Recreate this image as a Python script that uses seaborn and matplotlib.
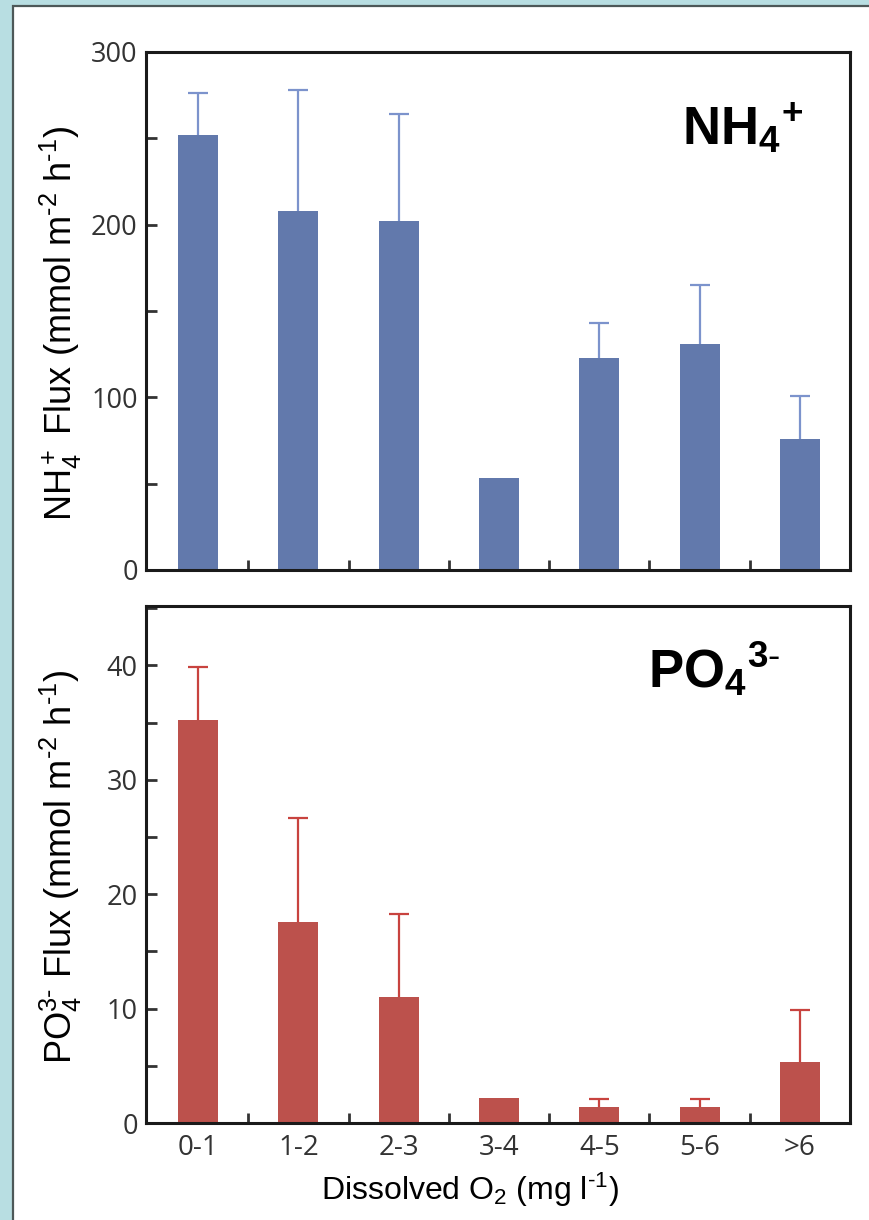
#importing packages
import numpy as np
import matplotlib
matplotlib.use("Agg")
import matplotlib.pyplot as plt
from matplotlib.patches import Rectangle
from matplotlib.ticker import MultipleLocator, FixedLocator
import seaborn as sns

#data
o2_classes = ["0-1", "1-2", "2-3", "3-4", "4-5", "5-6", ">6"]
nh4_flux = [252, 208, 202, 53, 123, 131, 76]
nh4_err = [24, 70, 62, 0, 20, 34, 25]
po4_flux = [35.2, 17.6, 11.0, 2.2, 1.4, 1.4, 5.3]
po4_err = [4.7, 9.1, 7.3, 0, 0.7, 0.7, 4.6]

#colours
blue_bar = "#6279AC"
blue_err = "#7C93CC"
red_bar = "#BC514C"
red_err = "#C8433F"

sns.set_style("ticks")
plt.rcParams['font.family'] = ['Liberation Sans', 'DejaVu Sans']
plt.rcParams['text.color'] = 'black'
plt.rcParams['axes.labelcolor'] = 'black'
plt.rcParams['mathtext.fontset'] = 'custom'
plt.rcParams['mathtext.rm'] = 'Liberation Sans'
plt.rcParams['mathtext.it'] = 'Liberation Sans:italic'
plt.rcParams['mathtext.bf'] = 'Liberation Sans:bold'

fig = plt.figure(figsize=(8.69, 12.2), dpi=100)
fig.patch.set_facecolor("#B8DEE2")
#white panel with dark edge at left and top
fig.add_artist(Rectangle((13/869, -0.01), 1.0, 1.01 - 6/1220, transform=fig.transFigure,
                         facecolor="white", edgecolor="#4D5858", linewidth=1.6, zorder=-5))

ax1 = fig.add_axes([146/869, 1 - 570/1220, 704/869, 518/1220])
ax2 = fig.add_axes([146/869, 1 - 1123/1220, 704/869, 517/1220])

#function for one panel
def panel(ax, vals, errs, bar_col, err_col, ymax, major, minor):
    sns.barplot(x=o2_classes, y=vals, color=bar_col, width=0.4, saturation=1,
                linewidth=0, errorbar=None, ax=ax)
    pos = np.arange(len(o2_classes))
    e = np.array(errs, dtype=float)
    v = np.array(vals, dtype=float)
    m = e > 0
    eb = ax.errorbar(pos[m], v[m], yerr=[np.zeros(m.sum()), e[m]], fmt='none',
                     ecolor=err_col, elinewidth=1.6, capsize=7, capthick=1.6, zorder=3)
    #only the upper cap
    eb[1][0].set_visible(False)
    ax.set_xlim(-0.52, 6.5)
    ax.set_ylim(0, ymax)
    ax.yaxis.set_major_locator(MultipleLocator(major))
    ax.yaxis.set_minor_locator(MultipleLocator(minor))
    ax.xaxis.set_minor_locator(FixedLocator(pos[:-1] + 0.5))
    ax.tick_params(axis='y', which='both', direction='in', length=8, width=2,
                   color="#333333", labelsize=19.5, labelcolor="#333333", pad=6)
    ax.tick_params(axis='x', which='major', length=0, labelsize=20,
                   labelcolor="#333333", pad=8)
    ax.tick_params(axis='x', which='minor', direction='in', length=7, width=2,
                   color="#333333")
    for lab in ax.get_yticklabels() + ax.get_xticklabels():
        lab.set_fontfamily('Open Sans')
    for s in ax.spines.values():
        s.set_visible(True)
        s.set_linewidth(2.2)
        s.set_color("#1A1A1A")
    ax.set_facecolor("white")

panel(ax1, nh4_flux, nh4_err, blue_bar, blue_err, 300, 100, 50)
panel(ax2, po4_flux, po4_err, red_bar, red_err, 45.2, 10, 5)

ax1.set_xticklabels([])
ax1.set_xlabel("")
ax1.set_ylabel(r"NH$_4^+$ Flux (mmol m$^{\text{-}2}$ h$^{\text{-}1}$)", fontsize=26)
ax1.yaxis.set_label_coords(-0.088, 0.476)
ax2.set_ylabel(r"PO$_4^{3\text{-}}$ Flux (mmol m$^{\text{-}2}$ h$^{\text{-}1}$)", fontsize=26)
ax2.yaxis.set_label_coords(-0.088, 0.496)
ax2.set_xlabel(r"Dissolved O$_2$ (mg l$^{\text{-}1}$)", fontsize=23)
ax2.xaxis.set_label_coords(0.46, -0.092)

#panel names, superscript set after the subscript
ax1.text(0.761, 0.819, r"NH$_\mathbf{4}{}^\mathbf{+}$", transform=ax1.transAxes,
         fontsize=38, fontweight='bold', ha='left', va='baseline')
ax2.text(0.713, 0.843, r"PO$_\mathbf{4}{}^{\mathbf{3}\text{-}}$", transform=ax2.transAxes,
         fontsize=38, fontweight='bold', ha='left', va='baseline')

plt.savefig("out.png", dpi=100, facecolor=fig.get_facecolor())
